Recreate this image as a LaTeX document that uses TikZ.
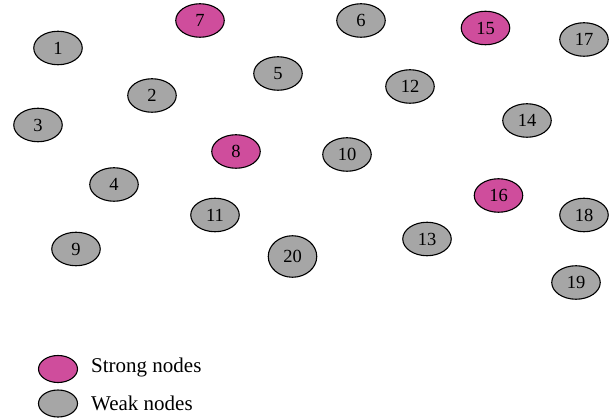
\documentclass[tikz,border=0pt]{standalone}
\usepackage{fontspec}
\setmainfont{Liberation Serif}
\usetikzlibrary{shapes.geometric}
\definecolor{weakgray}{RGB}{166,166,166}
\definecolor{strongpink}{RGB}{207,77,156}
\tikzset{
  nodebase/.style={ellipse, draw=black, line width=1.1pt, inner sep=0pt,
    minimum width=48.5pt, minimum height=33.5pt, font=\fontsize{18.5}{20}\selectfont},
  weak/.style={nodebase, fill=weakgray},
  strong/.style={nodebase, fill=strongpink},
  keybox/.style={ellipse, draw=black, line width=1.1pt, inner sep=0pt,
    minimum width=39pt, minimum height=27pt},
  keytext/.style={anchor=west, inner sep=0pt, font=\fontsize{21}{23}\selectfont}
}
\begin{document}
\begin{tikzpicture}[x=1pt,y=-1pt]
\useasboundingbox (0,0) rectangle (615,419);
% network nodes
\node[weak]   (n1)  at (58,48)    {1};
\node[weak]   (n2)  at (152,95.5) {2};
\node[weak]   (n3)  at (38,125)   {3};
\node[weak]   (n4)  at (114,184.5){4};
\node[weak]   (n5)  at (278,73.5) {5};
\node[weak]   (n6)  at (361,20.5) {6};
\node[strong] (n7)  at (200,20.5) {7};
\node[strong] (n8)  at (236,151.5){8};
\node[weak]   (n9)  at (76,249)   {9};
\node[weak]   (n10) at (347,154.5){10};
\node[weak]   (n11) at (215,215)  {11};
\node[weak]   (n12) at (410,86.5) {12};
\node[weak]   (n13) at (427,239)  {13};
\node[weak]   (n14) at (527,120.5){14};
\node[strong] (n15) at (485.5,28) {15};
\node[strong] (n16) at (498.5,195.5){16};
\node[weak]   (n17) at (584,39.5) {17};
\node[weak]   (n18) at (584,215)  {18};
\node[weak]   (n19) at (576,282.5){19};
\node[weak, minimum height=41.5pt] (n20) at (292.5,256.5){20};
% legend
\node[keybox, fill=strongpink] (kstrong) at (58,369) {};
\node[keybox, fill=weakgray]   (kweak)   at (58,403.5) {};
\node[keytext] (tstrong) at (91,367) {Strong nodes};
\node[keytext] (tweak)   at (91,403) {Weak nodes};
\end{tikzpicture}
\end{document}
